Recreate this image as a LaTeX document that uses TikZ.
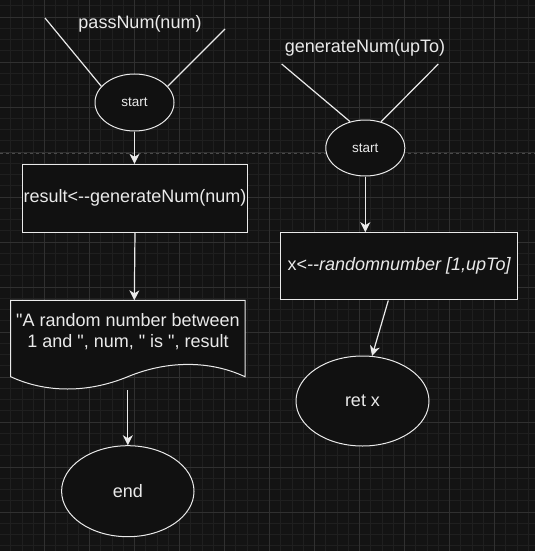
\documentclass[tikz,border=0pt]{standalone}
\usepackage{fontspec}
\newfontfamily\libsans{Liberation Sans}
\usetikzlibrary{arrows.meta,shapes.geometric}
\definecolor{bgc}{HTML}{131313}
\definecolor{gridminor}{HTML}{1F1F1F}
\definecolor{gridmajor}{HTML}{303030}
\definecolor{ink}{HTML}{EAEAEA}
\definecolor{fillc}{HTML}{111111}
\definecolor{pagebreak}{HTML}{4A4A4A}
\tikzset{
  lbl/.style={text=ink, font=\libsans\fontsize{18}{21.6}\selectfont, inner sep=0pt},
  startnode/.style={ellipse, draw=ink, fill=fillc, line width=1pt, inner sep=0pt,
    minimum width=79pt, minimum height=57pt, text=ink, font=\libsans\fontsize{13.5}{15}\selectfont},
  bignode/.style={ellipse, draw=ink, fill=fillc, line width=1pt, inner sep=0pt,
    minimum width=133pt, minimum height=91pt, text=ink, font=\libsans\fontsize{18}{21.6}\selectfont},
  procbox/.style={rectangle, draw=ink, fill=fillc, line width=1pt, inner sep=0pt,
    text=ink, font=\libsans\fontsize{18}{21.6}\selectfont},
  conn/.style={draw=ink, line width=1.2pt},
  flow/.style={draw=ink, line width=1.2pt, -{Stealth[length=10pt,width=10pt,inset=3pt]}},
}
\begin{document}
\begin{tikzpicture}[x=1pt,y=-1pt]
\useasboundingbox (0,0) rectangle (535,551);
\fill[bgc] (0,0) rectangle (535,551);
% grid
\foreach \i in {0,...,48} {
  \draw[gridminor, line width=0.6pt] ({-0.7+11.25*\i},0) -- ({-0.7+11.25*\i},551);
}
\foreach \i in {0,...,49} {
  \draw[gridminor, line width=0.6pt] (0,{17-11.25*2+11.25*\i}) -- (535,{17-11.25*2+11.25*\i});
}
\foreach \i in {0,...,12} {
  \draw[gridmajor, line width=0.8pt] ({-0.7+45*\i},0) -- ({-0.7+45*\i},551);
}
\foreach \i in {0,...,12} {
  \draw[gridmajor, line width=0.8pt] (0,{17+45*\i}) -- (535,{17+45*\i});
}
% page break line
\draw[pagebreak, line width=1pt, dash pattern=on 3pt off 3pt] (0,153.3) -- (535,153.3);

% left flow
\node[lbl] (t1) at (140,24) {passNum(num)};
\node[startnode] (s1) at (134.5,102.5) {start};
\coordinate (l1a) at (45,18);
\coordinate (l1b) at (225,29);
\draw[conn] (l1a) -- (s1.154);
\draw[conn] (l1b) -- (s1.26);
\node[procbox, minimum width=225.4pt, minimum height=68pt] (b1) at (135,198.3) {result<--generateNum(num)};
\draw[flow] (s1.south) -- (s1.south |- b1.north);

% document shape
\draw[draw=ink, fill=fillc, line width=1pt]
  (10.7,300.3) -- (245,300.3) -- (245,376.7)
  .. controls (209.6,360.3) and (167.6,360.3) .. (127.8,376.7)
  .. controls (88,393.1) and (46.1,393.1) .. (10.7,376.7) -- cycle;
\node[lbl, align=center] (doc) at (128,331.5) {"A random number between\\1 and ", num, " is ", result};
\coordinate (dtop) at (134.3,300.3);
\draw[flow] (b1.south) -- (dtop);
\node[bignode, minimum width=132.4pt, minimum height=91pt] (e1) at (127.8,491.2) {end};
\coordinate (dbot) at (127.8,390);
\draw[flow] (dbot) -- (e1.north);

% right flow
\node[lbl] (t2) at (365,48) {generateNum(upTo)};
\node[startnode, minimum height=56pt] (s2) at (365.3,148) {start};
\coordinate (l2a) at (281.7,64);
\coordinate (l2b) at (438.3,64);
\draw[conn] (l2a) -- (s2.120);
\draw[conn] (l2b) -- (s2.59);
\node[procbox, minimum width=236.7pt, minimum height=67.3pt] (b2) at (399.3,266.3) {x<\textit{--randomnumber [1,upTo]}};
\draw[flow] (s2.south) -- (s2.south |- b2.north);
\node[bignode, minimum width=133pt, minimum height=90pt] (e2) at (362.5,401) {ret x};
\coordinate (b2o) at ([xshift=-11pt]b2.south);
\draw[flow] (b2o) -- (e2.78);
\end{tikzpicture}
\end{document}
